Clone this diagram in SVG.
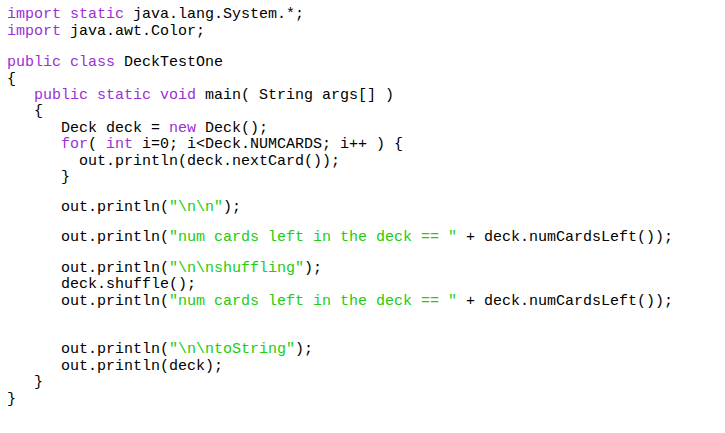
<svg xmlns="http://www.w3.org/2000/svg" width="725" height="433" viewBox="0 0 725 433">
<style>
text{font-family:"Liberation Mono","DejaVu Sans Mono",monospace;font-size:15px;fill:#000;white-space:pre}
.k{fill:#9b2fd6}.s{fill:#22cc11}
</style>
<rect width="725" height="433" fill="#fff"/>
<g id="code" xml:space="preserve">
<text x="7" y="18"><tspan class="k">import</tspan> <tspan class="k">static</tspan> java.lang.System.*;</text>
<text x="7" y="35"><tspan class="k">import</tspan> java.awt.Color;</text>
<text x="7" y="66"><tspan class="k">public</tspan> <tspan class="k">class</tspan> DeckTestOne</text>
<text x="7" y="83">{</text>
<text x="7" y="99">   <tspan class="k">public</tspan> <tspan class="k">static</tspan> <tspan class="k">void</tspan> main( String args[] )</text>
<text x="7" y="115">   {</text>
<text x="7" y="132">      Deck deck = <tspan class="k">new</tspan> Deck();</text>
<text x="7" y="148">      <tspan class="k">for</tspan>( <tspan class="k">int</tspan> i=0; i&lt;Deck.NUMCARDS; i++ ) {</text>
<text x="7" y="165">        out.println(deck.nextCard());</text>
<text x="7" y="181">      }</text>
<text x="7" y="211">      out.println(<tspan class="s">"\n\n"</tspan>);</text>
<text x="7" y="241">      out.println(<tspan class="s">"num cards left in the deck == "</tspan> + deck.numCardsLeft());</text>
<text x="7" y="272">      out.println(<tspan class="s">"\n\nshuffling"</tspan>);</text>
<text x="7" y="288">      deck.shuffle();</text>
<text x="7" y="305">      out.println(<tspan class="s">"num cards left in the deck == "</tspan> + deck.numCardsLeft());</text>
<text x="7" y="353">      out.println(<tspan class="s">"\n\ntoString"</tspan>);</text>
<text x="7" y="370">      out.println(deck);</text>
<text x="7" y="386">   }</text>
<text x="7" y="403">}</text>
</g>
</svg>
